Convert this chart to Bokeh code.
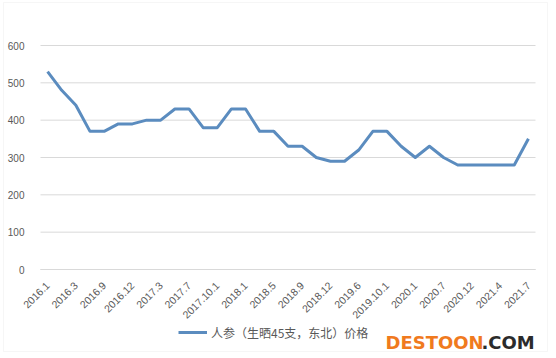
from bokeh.plotting import figure
from bokeh.models import FixedTicker, Legend, LegendItem, Label, Range1d, BoxAnnotation
from bokeh.embed import file_html
from bokeh.resources import INLINE

# Tick labels (every second period is labelled on the axis)
tick_labels = ["2016.1", "2016.3", "2016.9", "2016.12", "2017.3", "2017.7", "2017.10.1",
               "2018.1", "2018.5", "2018.9", "2018.12", "2019.6", "2019.10.1", "2020.1",
               "2020.7", "2020.12", "2021.4", "2021.7"]
# Price series (人参 生晒45支 东北), one value per period
prices = [530, 480, 440, 370, 370, 390, 390, 400, 400, 430, 430, 380, 380, 430, 430,
          370, 370, 330, 330, 300, 290, 290, 320, 370, 370, 330, 300, 330, 300, 280,
          280, 280, 280, 280, 350]
y_ticks = [0, 100, 200, 300, 400, 500, 600]
series_name = "人参（生晒45支，东北）价格"

xs = list(range(len(prices)))
tick_pos = xs[::2]

# Layout: the frame fills the whole figure so that axis labels, legend and the
# mark are drawn inside it; axes sit at fixed locations.
W, H = 548, 352
plot_l, plot_r, plot_t, plot_b = 40, 535, 45, 269
x_lo, x_hi = -0.5, len(prices) - 0.5
y_lo, y_hi = 0, 600
px_x = (plot_r - plot_l) / (x_hi - x_lo)
px_y = (plot_b - plot_t) / (y_hi - y_lo)
xr = Range1d(x_lo - plot_l / px_x, x_hi + (W - plot_r) / px_x)
yr = Range1d(y_lo - (H - plot_b) / px_y, y_hi + plot_t / px_y)

p = figure(width=W, height=H, output_backend="svg", toolbar_location=None,
           x_range=xr, y_range=yr,
           min_border_left=0, min_border_right=0, min_border_top=0, min_border_bottom=0)
p.background_fill_color = "white"
p.border_fill_color = "white"
p.outline_line_color = None
p.xgrid.visible = False
p.ygrid.visible = False

# horizontal gridlines across the plot area only
p.segment(x0=[x_lo] * len(y_ticks), x1=[x_hi] * len(y_ticks), y0=y_ticks, y1=y_ticks,
          line_color="#d9d9d9", line_width=1)

r = p.line(xs, prices, line_color="#5b8cbf", line_width=3, line_join="round")

grey = "#595959"
font = "Liberation Sans"
p.yaxis.fixed_location = x_lo
p.yaxis.ticker = FixedTicker(ticks=y_ticks)
p.yaxis.axis_line_color = None
p.yaxis.major_tick_line_color = None
p.yaxis.minor_tick_line_color = None
p.yaxis.major_label_standoff = 10
p.yaxis.major_label_text_font = font
p.yaxis.major_label_text_font_size = "10px"
p.yaxis.major_label_text_color = grey

p.xaxis.fixed_location = y_lo
p.xaxis.bounds = (x_lo, x_hi)
p.xaxis.ticker = FixedTicker(ticks=tick_pos)
p.xaxis.major_label_overrides = {t: lab for t, lab in zip(tick_pos, tick_labels)}
p.xaxis.major_label_orientation = 0.785398
p.xaxis.axis_line_color = "#d9d9d9"
p.xaxis.major_tick_line_color = None
p.xaxis.minor_tick_line_color = None
p.xaxis.major_label_standoff = 8
p.xaxis.major_label_text_font = font
p.xaxis.major_label_text_font_size = "10.5px"
p.xaxis.major_label_text_color = grey

legend = Legend(items=[LegendItem(label=series_name, renderers=[r])],
                location=(178, 10), padding=0, margin=0, spacing=0,
                glyph_width=29, glyph_height=20, label_standoff=4,
                border_line_color=None, background_fill_alpha=0,
                label_text_font="Noto Sans CJK SC", label_text_font_size="12px",
                label_text_color=grey)
p.add_layout(legend)

# chart border
p.add_layout(BoxAnnotation(left=3, right=547, top=H - 2, bottom=1,
                           left_units="screen", right_units="screen",
                           top_units="screen", bottom_units="screen",
                           fill_alpha=0, line_color="#e0e0e0", line_width=1))

p.add_layout(Label(x=385, y=10, x_units="screen", y_units="screen", text="DESTOON",
                   text_font="DejaVu Sans", text_font_style="bold", text_font_size="18px",
                   text_color="#f07a1e", text_baseline="alphabetic"))
p.add_layout(Label(x=481, y=10, x_units="screen", y_units="screen", text=".COM",
                   text_font="DejaVu Sans", text_font_style="bold", text_font_size="18px",
                   text_color="#2b2b2b", text_baseline="alphabetic"))

open("out.html", "w").write(file_html(p, INLINE))
